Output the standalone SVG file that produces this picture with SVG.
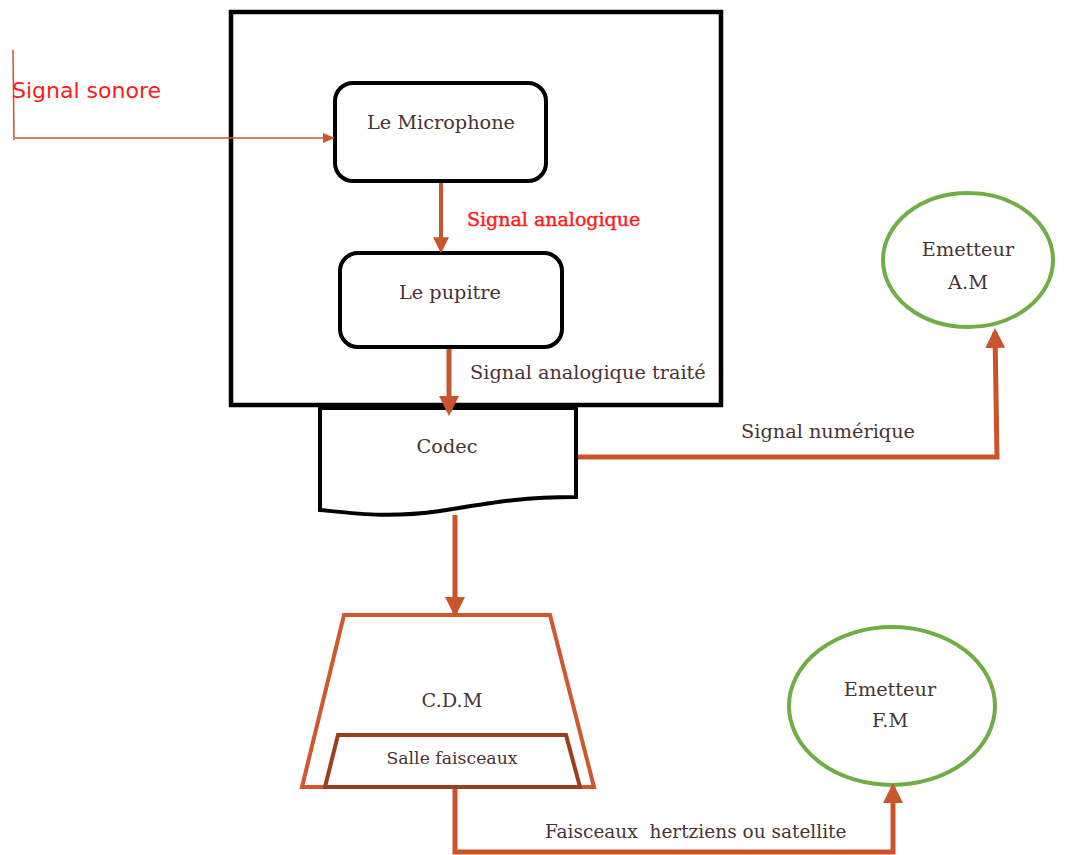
<svg xmlns="http://www.w3.org/2000/svg" width="1075" height="855" viewBox="0 0 1075 855">
<defs>
<style>
.t{font-family:"DejaVu Serif","Liberation Serif",serif;font-size:19.3px;fill:#4a3333;text-anchor:middle}
.r{font-family:"DejaVu Serif","Liberation Serif",serif;font-size:19px;fill:#ff1a1a;stroke:#ff1a1a;stroke-width:0.4}
.box{fill:#fff;stroke:#000;stroke-width:4}
.c{fill:none;stroke:#C9552C;stroke-width:5}
.em{fill:#fff;stroke:#70AD47;stroke-width:4}
</style>
<marker id="ah" markerWidth="4" markerHeight="4" refX="3.2" refY="2" orient="auto" markerUnits="strokeWidth"><path d="M0,0 L4,2 L0,4 Z" fill="#C9552C"/></marker>
<marker id="ahs" markerWidth="12" markerHeight="10" refX="10" refY="5" orient="auto" markerUnits="userSpaceOnUse"><path d="M0,0 L12,5 L0,10 Z" fill="#C9552C"/></marker>
</defs>
<rect width="1075" height="855" fill="#fff"/>
<g id="studio"><rect x="231" y="12" width="490" height="393" fill="none" stroke="#000" stroke-width="4.5"/></g>
<g id="microphone"><rect class="box" x="335" y="83" width="211" height="98" rx="18"/><text class="t" x="441" y="129">Le Microphone</text></g>
<g id="pupitre"><rect class="box" x="340" y="253" width="222" height="94" rx="18"/><text class="t" x="450" y="299">Le pupitre</text></g>
<g id="codec"><path class="box" d="M320,408 L576,408 L576,497 C520,497 490,503 440,511 C390,518 360,514 320,510 Z"/><text class="t" x="447" y="453">Codec</text></g>
<g id="cdm"><path d="M344,615 L550,615 L594,787 L302,787 Z" fill="#fff" stroke="#D0572E" stroke-width="4"/><text class="t" x="452" y="707">C.D.M</text>
<path d="M338,735 L566,735 L580,787 L325,787 Z" fill="#fff" stroke="#9A3F1E" stroke-width="4"/><text class="t" x="452" y="764" style="font-size:17.3px">Salle faisceaux</text></g>
<g id="emetteur-am"><ellipse class="em" cx="968" cy="260" rx="85" ry="67"/><text class="t" x="968" y="256">Emetteur</text><text class="t" x="968" y="289">A.M</text></g>
<g id="emetteur-fm"><ellipse class="em" cx="892" cy="706" rx="103" ry="79"/><text class="t" x="890" y="696">Emetteur</text><text class="t" x="890" y="727">F.M</text></g>
<g id="connectors">
<path d="M13,50 L14,140" fill="none" stroke="#C9552C" stroke-width="1.5"/>
<path d="M15,138 L333,138" fill="none" stroke="#C9552C" stroke-width="1.5" marker-end="url(#ahs)"/>
<path d="M441,183 L441,250" fill="none" stroke="#C9552C" stroke-width="4" marker-end="url(#ah)"/>
<path d="M449,349 L449,412" class="c" marker-end="url(#ah)"/>
<path d="M578,457 L997,457 L995,332" class="c" marker-end="url(#ah)"/>
<path d="M455,515 L455,613" class="c" marker-end="url(#ah)"/>
<path d="M455,789 L455,852 L893,852 L893,787" class="c" marker-end="url(#ah)"/>
</g>
<g id="labels">
<text x="12" y="98" style="font-family:'DejaVu Sans',sans-serif;font-size:22px;fill:#ff1a1a">Signal sonore</text>
<text class="r" x="467" y="226">Signal analogique</text>
<text class="t" x="470" y="379" style="text-anchor:start">Signal analogique traité</text>
<text class="t" x="741" y="438" style="text-anchor:start">Signal numérique</text>
<text class="t" x="545" y="838" style="text-anchor:start;white-space:pre;font-size:18.5px">Faisceaux  hertziens ou satellite</text>
</g>
</svg>
